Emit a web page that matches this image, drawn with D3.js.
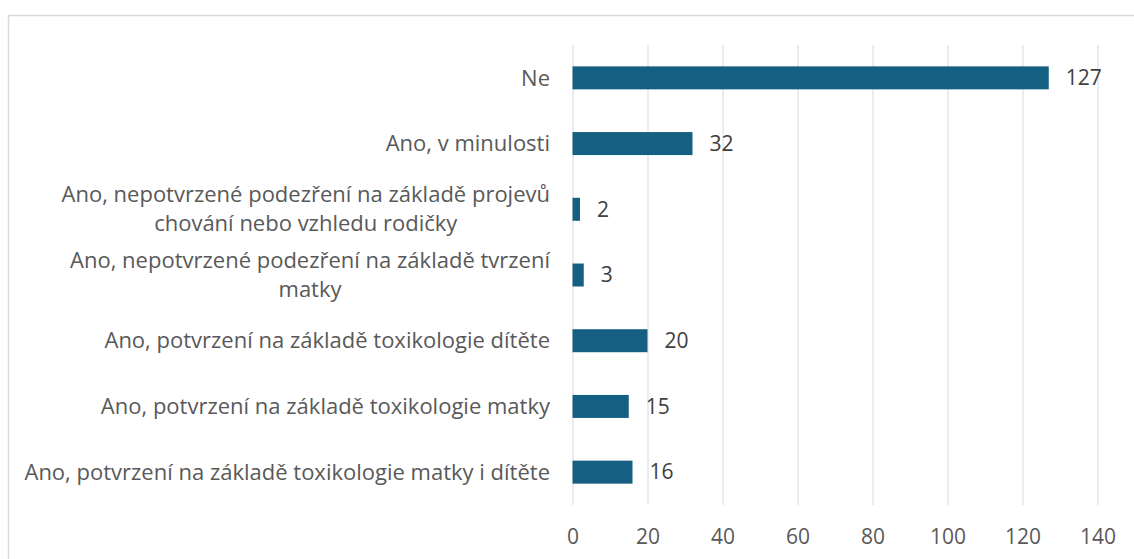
<!DOCTYPE html>
<html>
<head>
<meta charset="utf-8">
<script src="https://cdn.jsdelivr.net/npm/d3@7"></script>
<style>
  body { margin: 0; background: #fff; }
  svg { display: block; font-family: "Open Sans", "Noto Sans", sans-serif; }
</style>
</head>
<body>
<svg id="chart" width="1134" height="559"></svg>
<script>
const categories = [
    'Ne',
    'Ano, v minulosti',
    'Ano, nepotvrzené podezření na základě projevů\nchování nebo vzhledu rodičky',
    'Ano, nepotvrzené podezření na základě tvrzení\nmatky',
    'Ano, potvrzení na základě toxikologie dítěte',
    'Ano, potvrzení na základě toxikologie matky',
    'Ano, potvrzení na základě toxikologie matky i dítěte'
];
const counts = [127, 32, 2, 3, 20, 15, 16];
const xTicks = [0, 20, 40, 60, 80, 100, 120, 140];

const labelSize = 22;
const numSize = 21;
const svg = d3.select('#chart');

// chart border (runs off the right / bottom edge like the original)
svg.append('rect')
    .attr('x', 8.5).attr('y', 15.5)
    .attr('width', 1200).attr('height', 700)
    .attr('fill', 'none')
    .attr('stroke', '#d9d9d9')
    .attr('stroke-width', 1.5);

const x = d3.scaleLinear().domain([0, 140]).range([572.5, 1097.5]);
const y = d3.scaleBand().domain(categories).range([45, 505])
    .paddingInner(0.65).paddingOuter(0.325);

// vertical gridlines
const grid = svg.append('g')
    .attr('transform', 'translate(0,505)')
    .call(d3.axisTop(x).tickValues(xTicks).tickSize(460).tickFormat(''));
grid.select('.domain').remove();
grid.selectAll('line').attr('stroke', '#d9d9d9').attr('stroke-width', 1);

// x tick labels
const xAxis = svg.append('g')
    .attr('transform', 'translate(0,505)')
    .call(d3.axisBottom(x).tickValues(xTicks).tickSize(0).tickPadding(24));
xAxis.select('.domain').remove();
xAxis.selectAll('text')
    .attr('font-size', numSize)
    .attr('font-family', '"Open Sans"')
    .attr('fill', '#595959');

// bars
svg.append('g').selectAll('rect')
    .data(categories)
    .join('rect')
    .attr('x', x(0))
    .attr('y', d => y(d))
    .attr('width', (d, i) => x(counts[i]) - x(0))
    .attr('height', y.bandwidth())
    .attr('fill', '#156082');

// value labels
svg.append('g').selectAll('text')
    .data(categories)
    .join('text')
    .attr('x', (d, i) => x(counts[i]) + 17)
    .attr('y', d => y(d) + y.bandwidth() / 2)
    .attr('dy', '0.35em')
    .attr('font-size', numSize)
    .attr('fill', '#404040')
    .text((d, i) => counts[i]);

// category labels, wrapped lines centred on each other, block right-aligned
const labelRight = 550;
const lineGap = 29;
categories.forEach(cat => {
    const lines = cat.split('\n');
    const cy = y(cat) + y.bandwidth() / 2;
    const g = svg.append('g');
    const texts = lines.map((ln, j) => g.append('text')
        .attr('y', cy + (j - (lines.length - 1) / 2) * lineGap)
        .attr('dy', '0.35em')
        .attr('font-size', labelSize)
        .attr('fill', '#595959')
        .text(ln));
    const maxW = d3.max(texts, t => t.node().getComputedTextLength());
    texts.forEach(t => t.attr('text-anchor', 'middle').attr('x', labelRight - maxW / 2));
});
</script>
</body>
</html>
